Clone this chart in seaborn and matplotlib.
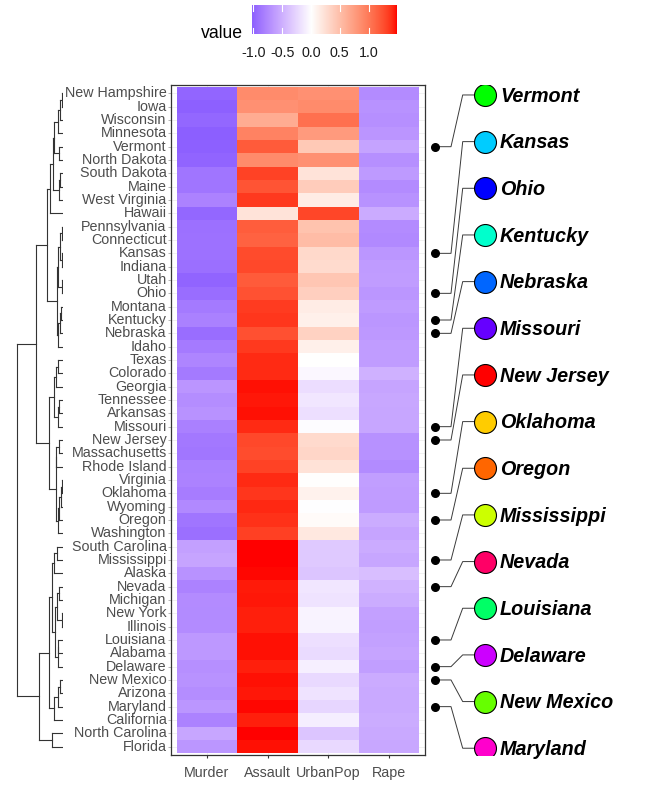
import numpy as np
import pandas as pd
import matplotlib
matplotlib.use('Agg')
import matplotlib.pyplot as plt
import seaborn as sns
from matplotlib.colors import ListedColormap, Normalize

# --- data (rows top to bottom, as in the reference) ---
states = ["New Hampshire", "Iowa", "Wisconsin", "Minnesota", "Vermont", "North Dakota",
          "South Dakota", "Maine", "West Virginia", "Hawaii", "Pennsylvania", "Connecticut",
          "Kansas", "Indiana", "Utah", "Ohio", "Montana", "Kentucky", "Nebraska", "Idaho",
          "Texas", "Colorado", "Georgia", "Tennessee", "Arkansas", "Missouri", "New Jersey",
          "Massachusetts", "Rhode Island", "Virginia", "Oklahoma", "Wyoming", "Oregon",
          "Washington", "South Carolina", "Mississippi", "Alaska", "Nevada", "Michigan",
          "New York", "Illinois", "Louisiana", "Alabama", "Delaware", "New Mexico", "Arizona",
          "Maryland", "California", "North Carolina", "Florida"]
variables = ["Murder", "Assault", "UrbanPop", "Rape"]

# scaled values per column, same row order as states
murder = [-0.99, -1.02, -0.98, -1.03, -1.02, -1.00, -0.89, -0.89, -0.80, -0.98,
          -0.92, -0.91, -0.91, -0.93, -1.00, -0.94, -0.86, -0.81, -0.94, -0.85,
          -0.78, -0.86, -0.68, -0.73, -0.70, -0.82, -0.87, -0.88, -0.81, -0.80,
          -0.84, -0.76, -0.89, -0.93, -0.61, -0.58, -0.70, -0.80, -0.74, -0.75,
          -0.74, -0.66, -0.66, -0.72, -0.70, -0.73, -0.67, -0.80, -0.57, -0.67]
assault = [0.88, 0.84, 0.64, 0.94, 1.19, 0.88, 1.32, 1.23, 1.36, 0.22,
           1.18, 1.15, 1.28, 1.29, 1.19, 1.24, 1.35, 1.37, 1.25, 1.36,
           1.41, 1.41, 1.47, 1.46, 1.47, 1.41, 1.29, 1.27, 1.32, 1.41,
           1.37, 1.42, 1.39, 1.33, 1.49, 1.49, 1.48, 1.45, 1.46, 1.44,
           1.44, 1.47, 1.47, 1.44, 1.47, 1.46, 1.48, 1.44, 1.49, 1.47]
urbanpop = [0.84, 0.88, 1.06, 0.77, 0.42, 0.84, 0.22, 0.39, 0.15, 1.30,
            0.47, 0.52, 0.30, 0.28, 0.44, 0.37, 0.15, 0.12, 0.35, 0.12,
            0.00, -0.05, -0.21, -0.16, -0.20, -0.02, 0.29, 0.32, 0.23, 0.01,
            0.10, -0.01, 0.03, 0.18, -0.34, -0.34, -0.37, -0.16, -0.18, -0.07,
            -0.08, -0.20, -0.23, -0.10, -0.24, -0.18, -0.26, -0.11, -0.37, -0.24]
rape = [-0.74, -0.70, -0.72, -0.68, -0.59, -0.72, -0.65, -0.74, -0.70, -0.54,
        -0.74, -0.76, -0.67, -0.64, -0.63, -0.67, -0.64, -0.67, -0.66, -0.63,
        -0.63, -0.50, -0.58, -0.56, -0.57, -0.57, -0.71, -0.71, -0.75, -0.62,
        -0.63, -0.64, -0.53, -0.58, -0.54, -0.57, -0.41, -0.49, -0.53, -0.61,
        -0.62, -0.60, -0.58, -0.62, -0.54, -0.55, -0.55, -0.53, -0.55, -0.56]

# highlighted states on the right and their circle colours
label_states = ["Vermont", "Kansas", "Ohio", "Kentucky", "Nebraska", "Missouri", "New Jersey",
                "Oklahoma", "Oregon", "Mississippi", "Nevada", "Louisiana", "Delaware",
                "New Mexico", "Maryland"]
label_colors = ["#00FF00", "#00CCFF", "#0000FF", "#00FFCC", "#0066FF", "#6600FF", "#FF0000",
                "#FFCC00", "#FF6600", "#CCFF00", "#FF0066", "#00FF66", "#CC00FF",
                "#66FF00", "#FF00CC"]

# dendrogram merges: (left, right, height); ints refer to earlier merges
merges = [
    ("New Hampshire", "Iowa", 1.0), (0, "Wisconsin", 2.7), (1, "Minnesota", 5.3),
    ("Vermont", "North Dakota", 4.0), (2, 3, 9.3), ("South Dakota", "Maine", 2.5),
    (5, "West Virginia", 4.0), (4, 6, 9.7), (7, "Hawaii", 12.7),
    ("Pennsylvania", "Connecticut", 1.0), ("Kansas", "Indiana", 1.0), (9, 10, 2.5),
    ("Utah", "Ohio", 1.0), (11, 12, 5.0), ("Montana", "Kentucky", 1.5), (14, "Nebraska", 3.0),
    (15, "Idaho", 4.5), (13, 16, 5.7), (8, 17, 16.3),
    ("Texas", "Colorado", 4.7), (19, "Georgia", 7.0), ("Tennessee", "Arkansas", 3.7),
    (21, "Missouri", 4.7), (20, 22, 8.7), ("New Jersey", "Massachusetts", 3.7),
    (24, "Rhode Island", 7.0), ("Virginia", "Oklahoma", 1.0), (26, "Wyoming", 2.3),
    (27, "Oregon", 4.0), (28, "Washington", 4.7), (25, 29, 7.3), (23, 30, 13.7), (18, 31, 27.0),
    ("South Carolina", "Mississippi", 6.3), (33, "Alaska", 8.7), ("Nevada", "Michigan", 3.7),
    ("New York", "Illinois", 1.0), (35, 36, 5.7), ("Louisiana", "Alabama", 4.5),
    (38, "Delaware", 4.8), (37, 39, 8.0), (34, 40, 11.3), ("New Mexico", "Arizona", 3.0),
    (42, "Maryland", 4.7), (43, "California", 8.7), (41, 44, 13.7),
    ("North Carolina", "Florida", 11.3), (45, 46, 23.7), (32, 47, 45.7),
]

z = pd.DataFrame({"Murder": murder, "Assault": assault, "UrbanPop": urbanpop, "Rape": rape},
                 index=states)[variables]

# --- colour scale: blue - white - red interpolated in CIELAB ---
_M = np.array([[0.4124, 0.3576, 0.1805], [0.2126, 0.7152, 0.0722], [0.0193, 0.1192, 0.9505]])
_WP = np.array([0.95047, 1.0, 1.08883])


def to_lab(hexc):
    c = np.array(matplotlib.colors.to_rgb(hexc))
    lin = np.where(c <= 0.04045, c / 12.92, ((c + 0.055) / 1.055) ** 2.4)
    xyz = (_M @ lin) / _WP
    f = np.where(xyz > (6 / 29) ** 3, np.cbrt(xyz), xyz / (3 * (6 / 29) ** 2) + 4 / 29)
    return np.array([116 * f[1] - 16, 500 * (f[0] - f[1]), 200 * (f[1] - f[2])])


def from_lab(lab):
    fy = (lab[0] + 16) / 116
    f = np.array([fy + lab[1] / 500, fy, fy - lab[2] / 200])
    xyz = np.where(f > 6 / 29, f ** 3, 3 * (6 / 29) ** 2 * (f - 4 / 29)) * _WP
    lin = np.clip(np.linalg.solve(_M, xyz), 0, 1)
    return np.clip(np.where(lin <= 0.0031308, 12.92 * lin, 1.055 * lin ** (1 / 2.4) - 0.055), 0, 1)


lab_lo, lab_mid, lab_hi = to_lab("#0000FF"), to_lab("#FFFFFF"), to_lab("#FF0000")
cols = []
for s in np.linspace(-1, 1, 512):
    end = lab_lo if s < 0 else lab_hi
    cols.append(from_lab(lab_mid + abs(s) * (end - lab_mid)))
cmap = ListedColormap(cols)

vals = z.values
vlim = np.abs(vals).max()
vmin_d, vmax_d = vals.min(), vals.max()

# --- figure ---
W, H, DPI = 650, 795, 100
fig = plt.figure(figsize=(W / DPI, H / DPI), dpi=DPI)
plt.rcParams['font.family'] = ['Liberation Sans', 'DejaVu Sans']

n_rows, n_cols = len(states), len(variables)
tile_l, tile_r, tile_t, tile_b = 176.7, 419.3, 86.7, 753.3
padx, pady = 0.09, 0.1
cw = (tile_r - tile_l) / n_cols
rh = (tile_b - tile_t) / n_rows
pan_l, pan_r = tile_l - padx * cw, tile_r + padx * cw
pan_t, pan_b = tile_t - pady * rh, tile_b + pady * rh


def fig_rect(l, r, t, b):
    return [l / W, 1 - b / H, (r - l) / W, (b - t) / H]


ax = fig.add_axes(fig_rect(pan_l, pan_r, pan_t, pan_b))
sns.heatmap(z, ax=ax, cmap=cmap, vmin=-vlim, vmax=vlim, cbar=False, linewidths=0)
ax.set_xlim(-padx, n_cols + padx)
ax.set_ylim(n_rows + pady, -pady)
ax.set_yticks(np.arange(n_rows) + 0.5, states, rotation=0)
ax.set_xticks(np.arange(n_cols) + 0.5, variables, rotation=0)
ax.set_xlabel("")
ax.set_ylabel("")
ax.set_axisbelow(True)
ax.grid(True, color="#EBEBEB", linewidth=0.5)
for sp in ax.spines.values():
    sp.set_visible(True)
    sp.set_color("#333333")
    sp.set_linewidth(0.9)
ax.tick_params(axis="y", length=2.5, width=0.6, color="#AAAAAA", pad=0.8,
               labelsize=10.3, labelcolor="#4D4D4D")
ax.tick_params(axis="x", length=2.5, width=0.8, color="#333333", pad=5.5,
               labelsize=10.3, labelcolor="#4D4D4D")

# --- dendrogram ---
axd = fig.add_axes(fig_rect(0, 63, pan_t, pan_b))
axd.set_xlim(63, 0)
axd.set_ylim(n_rows + pady, -pady)
axd.axis("off")
nodes = []
for left, right, h in merges:
    ys = []
    for c in (left, right):
        if isinstance(c, str):
            y, ch = states.index(c) + 0.5, 0.0
        else:
            y, ch = nodes[c]
        axd.plot([ch, h], [y, y], color="#333333", lw=0.8, solid_capstyle="projecting")
        ys.append(y)
    axd.plot([h, h], ys, color="#333333", lw=0.8, solid_capstyle="projecting")
    nodes.append((np.mean(ys), h))

# --- right-hand labels ---
axr = fig.add_axes(fig_rect(pan_r, W, pan_t, pan_b))
axr.set_xlim(pan_r, W)
axr.set_ylim(n_rows + pady, -pady)
axr.axis("off")
lab_y = np.linspace(0.62, 49.62, len(label_states))
for st, colr, ly in zip(label_states, label_colors, lab_y):
    dy = states.index(st) + 0.5
    axr.plot([435, 451, 462.7, 474], [dy, dy, ly, ly], color="#3A3A3A", lw=0.7)
    axr.scatter([435], [dy], s=30, color="black", zorder=3)
    axr.scatter([485], [ly], s=250, color=colr, edgecolor="black", linewidth=0.8, zorder=3)
    axr.text(500, ly + 0.1, st, fontsize=14.2, fontweight="bold", fontstyle="italic",
             ha="left", va="center", color="black")

# --- colour bar legend ---
cax = fig.add_axes(fig_rect(251.7, 396.7, 5, 34))
grad = np.linspace(vmin_d, vmax_d, 400)[None, :]
cax.imshow(grad, cmap=cmap, norm=Normalize(-vlim, vlim), aspect="auto",
           extent=[vmin_d, vmax_d, 0, 1])
cax.set_xlim(vmin_d, vmax_d)
cax.set_ylim(0, 1)
ticks = [-1.0, -0.5, 0.0, 0.5, 1.0]
for t in ticks:
    cax.plot([t, t], [0, 0.2], color="white", lw=0.8)
    cax.plot([t, t], [0.8, 1], color="white", lw=0.8)
cax.set_xticks(ticks, [f"{t:.1f}" for t in ticks])
cax.set_yticks([])
cax.tick_params(axis="x", length=0, pad=8.5, labelsize=10.3, labelcolor="#1A1A1A")
for sp in cax.spines.values():
    sp.set_visible(False)
fig.text(243 / W, 1 - 33 / H, "value", fontsize=12.7, ha="right", va="center", color="black")

fig.savefig("out.png", dpi=DPI, facecolor="white")
